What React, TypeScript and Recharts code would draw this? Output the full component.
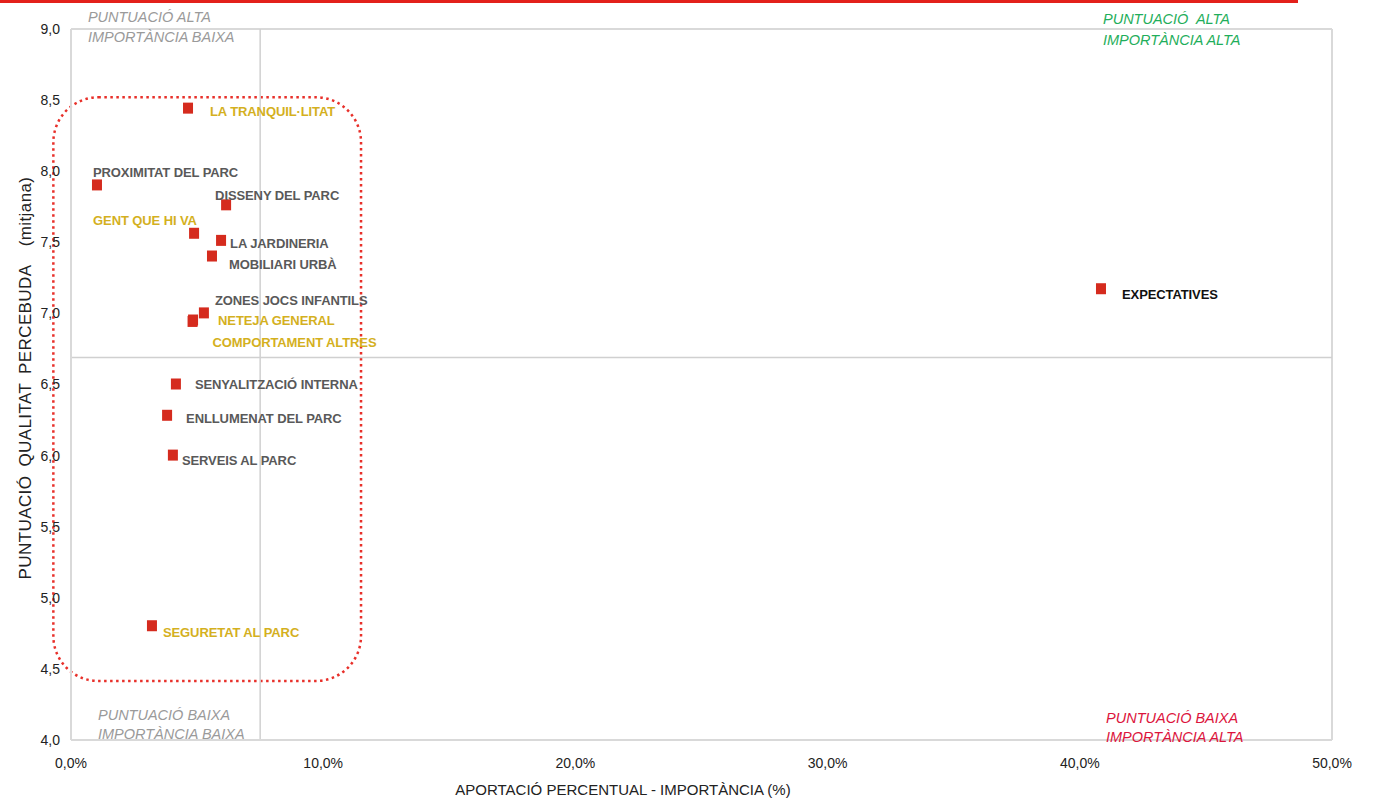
import {
  ScatterChart,
  Scatter,
  XAxis,
  YAxis,
  ReferenceLine,
  ReferenceArea,
  ReferenceDot,
} from 'recharts'

// aspectes valorats del parc
const names = [
  'LA TRANQUIL·LITAT',
  'PROXIMITAT DEL PARC',
  'DISSENY DEL PARC',
  'GENT QUE HI VA',
  'LA JARDINERIA',
  'MOBILIARI URBÀ',
  'ZONES JOCS INFANTILS',
  'NETEJA GENERAL',
  'COMPORTAMENT ALTRES',
  'SENYALITZACIÓ INTERNA',
  'ENLLUMENAT DEL PARC',
  'SERVEIS AL PARC',
  'SEGURETAT AL PARC',
  'EXPECTATIVES',
]
// aportació percentual (%)
const importance = [4.64, 1.03, 6.15, 4.88, 5.95, 5.59, 5.27, 4.84, 4.82, 4.16, 3.81, 4.04, 3.21, 40.84]
// puntuació mitjana
const score = [8.44, 7.9, 7.76, 7.56, 7.51, 7.4, 7.0, 6.95, 6.94, 6.5, 6.28, 6.0, 4.8, 7.17]

const xTicks = [0, 10, 20, 30, 40, 50]
const yTicks = [4, 4.5, 5, 5.5, 6, 6.5, 7, 7.5, 8, 8.5, 9]
const meanImportance = 7.5
const meanScore = 6.69

// layout of labels (text start / text middle relative to marker)
const labelPos: Record<string, { dx: number; dy: number; color: string }> = {
  'LA TRANQUIL·LITAT': { dx: 22, dy: 3, color: '#d4b01e' },
  'PROXIMITAT DEL PARC': { dx: -4, dy: -13, color: '#595959' },
  'DISSENY DEL PARC': { dx: -11, dy: -10, color: '#595959' },
  'GENT QUE HI VA': { dx: -101, dy: -13, color: '#d4b01e' },
  'LA JARDINERIA': { dx: 9, dy: 3, color: '#595959' },
  'MOBILIARI URBÀ': { dx: 17, dy: 8, color: '#595959' },
  'ZONES JOCS INFANTILS': { dx: 11, dy: -13, color: '#595959' },
  'NETEJA GENERAL': { dx: 25, dy: 0, color: '#d4b01e' },
  'COMPORTAMENT ALTRES': { dx: 20, dy: 21, color: '#d4b01e' },
  'SENYALITZACIÓ INTERNA': { dx: 19, dy: 0, color: '#595959' },
  'ENLLUMENAT DEL PARC': { dx: 19, dy: 3, color: '#595959' },
  'SERVEIS AL PARC': { dx: 9, dy: 5, color: '#595959' },
  'SEGURETAT AL PARC': { dx: 11, dy: 6, color: '#d4b01e' },
  EXPECTATIVES: { dx: 21, dy: 5, color: '#111111' },
}

const data = names.map((n, i) => ({ name: n, x: importance[i], y: score[i] }))

const FONT = "'Liberation Sans', Arial, sans-serif"

const fmtY = (v: number) => v.toFixed(1).replace('.', ',')
const fmtX = (v: number) => v.toFixed(1).replace('.', ',') + '%'

function PointShape(props: any) {
  const { cx, cy, payload } = props
  const lp = labelPos[payload.name]
  return (
    <g>
      <rect x={cx - 5} y={cy - 6} width={10} height={11} fill="#d52b1e" />
      <text
        x={cx + lp.dx}
        y={cy + lp.dy}
        dominantBaseline="central"
        fill={lp.color}
        fontFamily={FONT}
        fontWeight="bold"
        fontSize={13}
        letterSpacing={-0.1}
      >
        {payload.name}
      </text>
    </g>
  )
}

function quadrant(lines: string[], color: string, lh: number) {
  return (p: any) => (
    <text x={p.cx} y={p.cy} fill={color} fontFamily={FONT} fontStyle="italic" fontSize={14.5}>
      {lines.map((l, i) => (
        <tspan key={i} x={p.cx} dy={i === 0 ? 0 : lh}>
          {l}
        </tspan>
      ))}
    </text>
  )
}

export default function App() {
  return (
    <div style={{ position: 'absolute', left: 0, top: 0, width: 1378, height: 799, background: '#fff' }}>
      <div style={{ position: 'absolute', left: 0, top: 0, width: 1298, height: 3, background: '#e3201b' }} />
      <ScatterChart width={1378} height={799} margin={{ top: 29, right: 46, bottom: 0, left: 0 }}>
        <XAxis
          type="number"
          dataKey="x"
          domain={[0, 50]}
          ticks={xTicks}
          tickFormatter={fmtX}
          height={59}
          tickLine={false}
          tickMargin={12}
          stroke="#d9d9d9"
          strokeWidth={2}
          tick={{ fill: '#222', fontSize: 14, fontFamily: FONT }}
          label={{
            content: (p: any) => (
              <text
                x={p.viewBox.x + 552}
                y={789}
                textAnchor="middle"
                dominantBaseline="central"
                fill="#222"
                fontSize={15}
                fontFamily={FONT}
              >
                APORTACIÓ PERCENTUAL - IMPORTÀNCIA (%)
              </text>
            ),
          }}
        />
        <YAxis
          type="number"
          dataKey="y"
          domain={[4, 9]}
          ticks={yTicks}
          tickFormatter={fmtY}
          width={71}
          tickLine={false}
          tickMargin={5}
          stroke="#d9d9d9"
          strokeWidth={2}
          tick={{ fill: '#222', fontSize: 14, fontFamily: FONT }}
          label={{
            content: () => (
              <text
                x={25}
                y={378}
                transform="rotate(-90 25 378)"
                textAnchor="middle"
                dominantBaseline="central"
                fill="#222"
                fontSize={17}
                letterSpacing={0.4}
                wordSpacing={4}
                fontFamily={FONT}
              >
                {'PUNTUACIÓ QUALITAT PERCEBUDA\u00a0 (mitjana)'}
              </text>
            ),
          }}
        />
        <ReferenceLine y={9} stroke="#d9d9d9" strokeWidth={2} />
        <ReferenceLine x={50} stroke="#d9d9d9" strokeWidth={2} />
        <ReferenceLine x={meanImportance} stroke="#d0d0d0" strokeWidth={1.5} />
        <ReferenceLine y={meanScore} stroke="#d0d0d0" strokeWidth={1.5} />
        <ReferenceArea
          x1={-0.7}
          x2={11.5}
          y1={4.415}
          y2={8.52}
          ifOverflow="visible"
          shape={(p: any) => (
            <rect
              x={p.x}
              y={p.y}
              width={p.width}
              height={p.height}
              rx={45}
              ry={45}
              fill="none"
              stroke="#e8302a"
              strokeWidth={2.5}
              strokeDasharray="2.5 3.5"
            />
          )}
        />
        <ReferenceDot x={0.67} y={9.046} r={0} ifOverflow="visible"
          shape={quadrant(['PUNTUACIÓ ALTA', 'IMPORTÀNCIA BAIXA'], '#9a9a9a', 20)} />
        <ReferenceDot x={40.92} y={9.032} r={0} ifOverflow="visible"
          shape={quadrant(['PUNTUACIÓ\u00a0 ALTA', 'IMPORTÀNCIA ALTA'], '#1fae5b', 21)} />
        <ReferenceDot x={1.07} y={4.144} r={0} ifOverflow="visible"
          shape={quadrant(['PUNTUACIÓ BAIXA', 'IMPORTÀNCIA BAIXA'], '#9a9a9a', 19)} />
        <ReferenceDot x={41.04} y={4.123} r={0} ifOverflow="visible"
          shape={quadrant(['PUNTUACIÓ BAIXA', 'IMPORTÀNCIA ALTA'], '#dc143c', 19)} />
        <Scatter data={data} shape={PointShape} isAnimationActive={false} />
      </ScatterChart>
    </div>
  )
}
